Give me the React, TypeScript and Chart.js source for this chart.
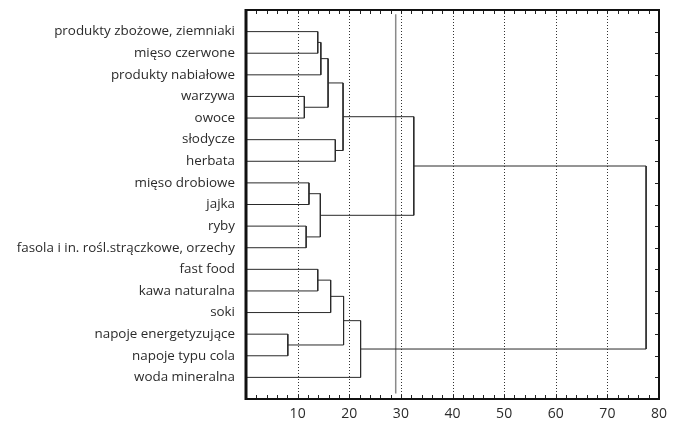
import React, { useEffect, useRef } from "react";
import { Chart, registerables } from "chart.js";

Chart.register(...registerables);

// Leaves, top to bottom
const leafLabels = [
  "produkty zbożowe, ziemniaki",
  "mięso czerwone",
  "produkty nabiałowe",
  "warzywa",
  "owoce",
  "słodycze",
  "herbata",
  "mięso drobiowe",
  "jajka",
  "ryby",
  "fasola i in. rośl.strączkowe, orzechy",
  "fast food",
  "kawa naturalna",
  "soki",
  "napoje energetyzujące",
  "napoje typu cola",
  "woda mineralna",
];

// Merge steps: node index 17 + k joins mergeLeft[k] and mergeRight[k] at mergeHeight[k]
const mergeLeft = [0, 17, 3, 18, 5, 20, 7, 9, 23, 22, 11, 27, 14, 28, 30, 26];
const mergeRight = [1, 2, 4, 19, 6, 21, 8, 10, 24, 25, 12, 13, 15, 29, 16, 31];
const mergeHeight = [13.9, 14.5, 11.3, 15.9, 17.3, 18.8, 12.2, 11.65, 14.4, 32.5, 13.9, 16.4, 8.1, 18.9, 22.2, 77.5];

// Cut-off line
const cutValue = 29;

// Axis
const xTickValues = [10, 20, 30, 40, 50, 60, 70, 80];
const gridValues = [10, 20, 30, 40, 50, 60, 70];

const LINE = "#2a2a2a";
const FONT = "'Open Sans', sans-serif";

function buildDatasets() {
  const nLeaves = leafLabels.length;
  const ys: number[] = leafLabels.map((_, i) => i + 1);
  const hs: number[] = leafLabels.map(() => 0);
  const datasets: any[] = [];
  mergeHeight.forEach((h, k) => {
    const a = mergeLeft[k];
    const b = mergeRight[k];
    datasets.push({
      data: [
        { x: hs[a], y: ys[a] },
        { x: h, y: ys[a] },
        { x: h, y: ys[b] },
        { x: hs[b], y: ys[b] },
      ],
      showLine: true,
      borderColor: LINE,
      borderWidth: 1,
      pointRadius: 0,
      tension: 0,
      fill: false,
    });
    ys[nLeaves + k] = (ys[a] + ys[b]) / 2;
    hs[nLeaves + k] = h;
  });
  datasets.push({
    data: [
      { x: cutValue, y: 0.2 },
      { x: cutValue, y: 17.75 },
    ],
    showLine: true,
    borderColor: "#8a8a8a",
    borderWidth: 1.5,
    pointRadius: 0,
    fill: false,
  });
  return datasets;
}

const framePlugin = {
  id: "frame",
  beforeDatasetsDraw(chart: any) {
    const { ctx, chartArea } = chart;
    const { top, bottom } = chartArea;
    const x = chart.scales.x;
    ctx.save();
    ctx.strokeStyle = "#333";
    ctx.lineWidth = 1;
    ctx.setLineDash([1, 2]);
    for (const v of gridValues) {
      const px = Math.round(x.getPixelForValue(v)) + 0.5;
      ctx.beginPath();
      ctx.moveTo(px, top);
      ctx.lineTo(px, bottom);
      ctx.stroke();
    }
    ctx.restore();
  },
  afterDatasetsDraw(chart: any) {
    const { ctx, chartArea } = chart;
    const { left, right, top, bottom } = chartArea;
    const x = chart.scales.x;
    const y = chart.scales.y;
    ctx.save();
    ctx.strokeStyle = "#222";
    ctx.lineWidth = 1;
    for (let v = 2; v < 80; v += 2) {
      const px = Math.round(x.getPixelForValue(v)) + 0.5;
      ctx.beginPath();
      ctx.moveTo(px, bottom);
      ctx.lineTo(px, bottom - 4);
      ctx.moveTo(px, top);
      ctx.lineTo(px, top + 4);
      ctx.stroke();
    }
    for (let i = 1; i <= leafLabels.length; i++) {
      const py = Math.round(y.getPixelForValue(i)) + 0.5;
      ctx.beginPath();
      ctx.moveTo(right, py);
      ctx.lineTo(right - 4, py);
      ctx.stroke();
    }
    ctx.strokeStyle = "#111";
    ctx.lineWidth = 2;
    ctx.strokeRect(left, top, right - left, bottom - top);
    ctx.lineWidth = 3;
    ctx.beginPath();
    ctx.moveTo(left, top - 1);
    ctx.lineTo(left, bottom + 1);
    ctx.stroke();
    ctx.restore();
  },
};

export default function App() {
  const ref = useRef<HTMLCanvasElement | null>(null);
  useEffect(() => {
    if (!ref.current) return;
    const chart = new Chart(ref.current, {
      type: "scatter",
      data: { datasets: buildDatasets() },
      options: {
        animation: false,
        responsive: false,
        events: [],
        layout: { padding: { top: 10, right: 17, left: 0, bottom: 0 } },
        plugins: { legend: { display: false }, tooltip: { enabled: false } },
        scales: {
          x: {
            type: "linear",
            min: 0,
            max: 80,
            afterBuildTicks: (s: any) => {
              s.ticks = xTickValues.map((v) => ({ value: v }));
            },
            grid: { display: false, drawTicks: false },
            border: { display: false },
            ticks: {
              padding: 7,
              color: "#2b2b2b",
              font: { family: FONT, size: 14 },
              maxRotation: 0,
              autoSkip: false,
              callback: (v: any) => String(v),
            },
            afterFit: (s: any) => {
              s.height = 26;
              s.paddingLeft = 0;
              s.paddingRight = 0;
              s.paddingTop = 0;
              s.paddingBottom = 0;
            },
          },
          y: {
            type: "linear",
            min: 0,
            max: 18,
            reverse: true,
            afterBuildTicks: (s: any) => {
              s.ticks = leafLabels.map((_, i) => ({ value: i + 1 }));
            },
            grid: { display: false, drawTicks: false },
            border: { display: false },
            ticks: {
              padding: 11,
              color: "#2b2b2b",
              autoSkip: false,
              font: { family: FONT, size: 13.4 },
              callback: (v: any) => leafLabels[Number(v) - 1] ?? "",
            },
            afterFit: (s: any) => {
              s.width = 246;
              s.paddingLeft = 0;
              s.paddingRight = 0;
              s.paddingTop = 0;
              s.paddingBottom = 0;
            },
          },
        },
      },
      plugins: [framePlugin],
    });
    return () => chart.destroy();
  }, []);
  return (
    <div style={{ position: "absolute", left: 0, top: 0, width: 676, height: 425, background: "#fff" }}>
      <canvas ref={ref} width={676} height={425} />
    </div>
  );
}
